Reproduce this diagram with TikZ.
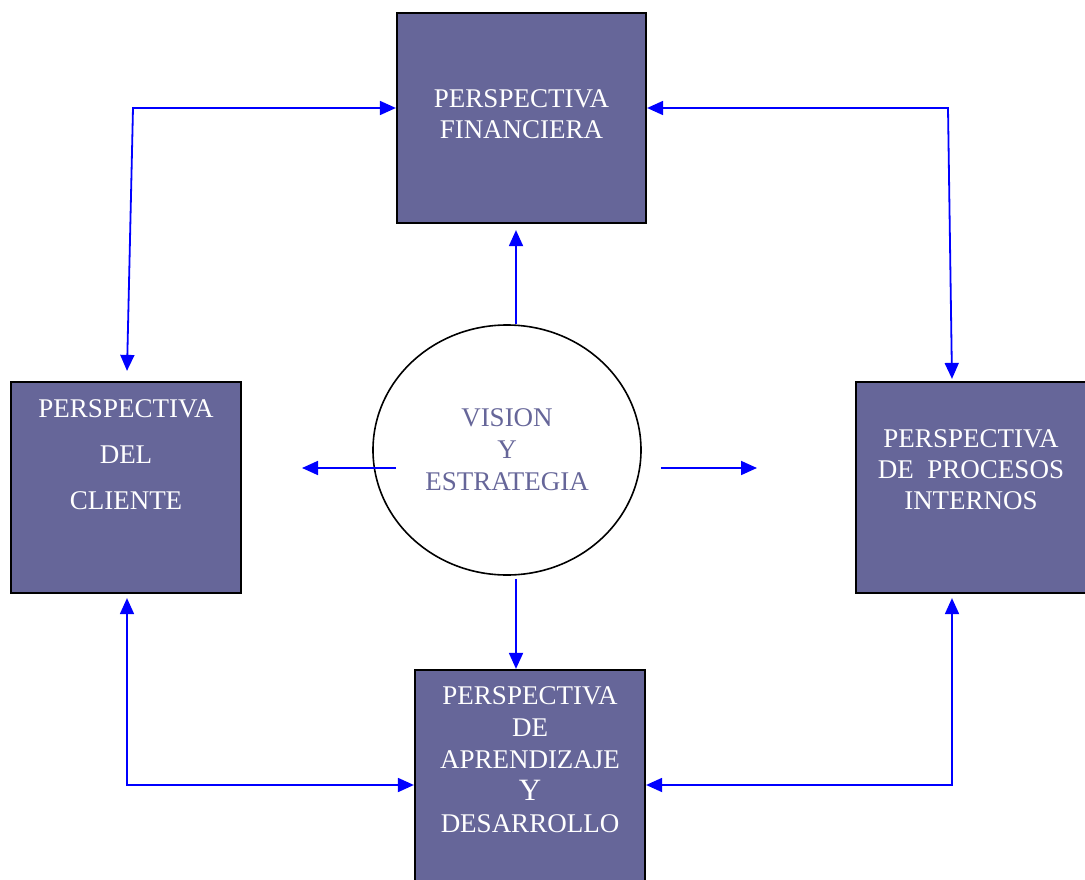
\documentclass[tikz,border=0pt]{standalone}
\usepackage{fontspec}
\setmainfont{Liberation Serif}
\usetikzlibrary{positioning,arrows.meta,shapes.geometric}
\definecolor{perspfill}{RGB}{102,102,153}

\tikzset{
	persp/.style={draw=black, line width=2.2pt, fill=perspfill, minimum width=230pt, minimum height=211pt, inner sep=0pt},
	persptext/.style={text=white, align=center, inner sep=0pt},
	link/.style={draw=blue, line width=1.8pt}
}

\begin{document}
\begin{tikzpicture}[x=1pt, y=-1pt, >={Triangle[length=16pt,width=14pt]}]

	\useasboundingbox (0,0) rectangle (1085,880);

	\node[persp, minimum width=249pt, minimum height=210pt] (fin) at (521.5,118) {};
	\node[persp] (cli) at (126,487.5) {};
	\node[persp, minimum width=232pt] (proc) at (972,487.5) {};
	\node[persp] (apr) at (530,775.5) {};
	\node[shape=ellipse, draw=black, line width=1.6pt, minimum width=268pt, minimum height=250pt,
		text=perspfill, align=center, font=\fontsize{27}{32}\selectfont] (vis) at (507,450)
		{VISION\\Y\\ESTRATEGIA};

	\node[persptext, font=\fontsize{27}{31}\selectfont, below=78pt of fin.north] (fintxt)
		{PERSPECTIVA\\FINANCIERA};
	\node[persptext, font=\fontsize{27}{46}\selectfont, below=19pt of cli.north] (clitxt)
		{PERSPECTIVA\\DEL\\CLIENTE};
	\node[persptext, font=\fontsize{27}{31}\selectfont, below=49pt of proc.north, xshift=-1pt] (proctxt)
		{PERSPECTIVA\\DE\ \ PROCESOS\\INTERNOS};
	\node[persptext, font=\fontsize{27}{32}\selectfont, below=18pt of apr.north] (aprtxt)
		{PERSPECTIVA\\DE\\APRENDIZAJE\\{\fontsize{31}{32}\selectfont Y}\\DESARROLLO};

	\coordinate (finl) at (133,108);
	\coordinate (finr) at (948,108);
	\coordinate (clib) at (127,785);
	\coordinate (procb) at (952,785);
	\coordinate (visl) at (302,468);
	\coordinate (visr) at (757,468);

	% perspectivas entre si
	\draw[link, <->] ([yshift=10pt]fin.west) -- (finl) -- ([shift={(1pt,10pt)}]cli.north);
	\draw[link, <->] ([yshift=10pt]fin.east) -- (finr) -- ([shift={(-20pt,2pt)}]proc.north);
	\draw[link, <->] ([shift={(1pt,-4pt)}]cli.south) -- (clib) -- ([yshift=-9.5pt]apr.west);
	\draw[link, <->] ([shift={(-20pt,-4pt)}]proc.south) -- (procb) -- ([yshift=-9.5pt]apr.east);

	% desde la vision
	\draw[link, ->] ([xshift=9pt]vis.north) -- ([shift={(-5.5pt,-6pt)}]fin.south);
	\draw[link, ->] ([shift={(9pt,-3pt)}]vis.south) -- ([xshift=-14pt]apr.north);
	\draw[link, ->] ([shift={(24pt,-18pt)}]vis.west) -- (visl);
	\draw[link, ->] ([shift={(19pt,-18pt)}]vis.east) -- (visr);

\end{tikzpicture}
\end{document}
